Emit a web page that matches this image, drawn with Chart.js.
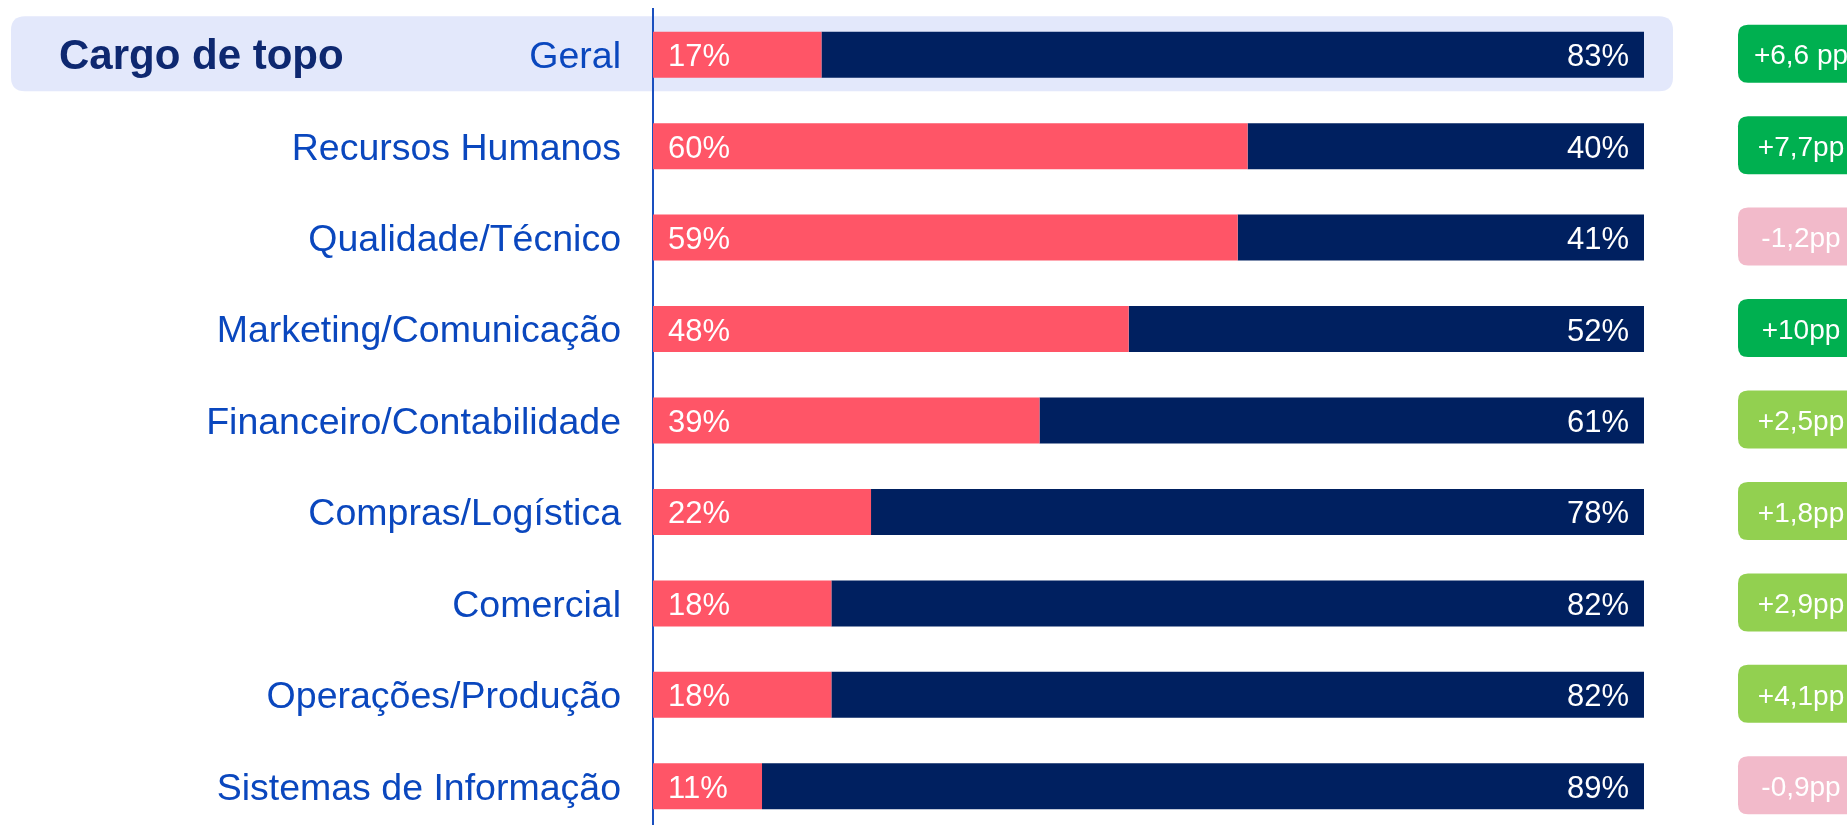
<!DOCTYPE html>
<html>
<head>
<meta charset="utf-8">
<script src="https://cdn.jsdelivr.net/npm/chart.js@4.4.1/dist/chart.umd.min.js"></script>
<style>
  html, body { margin: 0; padding: 0; background: #ffffff; overflow: hidden; }
  canvas { display: block; }
</style>
</head>
<body>
<canvas id="c" width="1847" height="842"></canvas>
<script>
// ---- Data ----
const categories = [
  'Geral',
  'Recursos Humanos',
  'Qualidade/Técnico',
  'Marketing/Comunicação',
  'Financeiro/Contabilidade',
  'Compras/Logística',
  'Comercial',
  'Operações/Produção',
  'Sistemas de Informação'
];
const womenShare = [17, 60, 59, 48, 39, 22, 18, 18, 11];
const menShare   = [83, 40, 41, 52, 61, 78, 82, 82, 89];
const changeValues = [6.6, 7.7, -1.2, 10, 2.5, 1.8, 2.9, 4.1, -0.9];
const changeLabels = ['+6,6 pp', '+7,7pp', '-1,2pp', '+10pp', '+2,5pp', '+1,8pp', '+2,9pp', '+4,1pp', '-0,9pp'];
const titleText = 'Cargo de topo';

// ---- Styles ----
const FONT = "'Liberation Sans', Arial, Helvetica, sans-serif";
const RED = '#FF5567';
const NAVY = '#002060';
const LABEL_BLUE = '#0A47BE';
const TITLE_NAVY = '#0E2870';
const BOX_COLOR = '#E3E8FB';

function badgeColor(v) {
  if (v >= 5) return '#00B050';
  if (v > 0) return '#92D050';
  return '#F2BACA';
}

function roundRect(ctx, x, y, w, h, r) {
  ctx.beginPath();
  ctx.moveTo(x + r, y);
  ctx.lineTo(x + w - r, y);
  ctx.quadraticCurveTo(x + w, y, x + w, y + r);
  ctx.lineTo(x + w, y + h - r);
  ctx.quadraticCurveTo(x + w, y + h, x + w - r, y + h);
  ctx.lineTo(x + r, y + h);
  ctx.quadraticCurveTo(x, y + h, x, y + h - r);
  ctx.lineTo(x, y + r);
  ctx.quadraticCurveTo(x, y, x + r, y);
  ctx.closePath();
}

const decorPlugin = {
  id: 'decor',
  beforeDraw(chart) {
    const ctx = chart.ctx;
    const yScale = chart.scales.y;
    const cy = yScale.getPixelForValue(0);
    ctx.save();
    ctx.fillStyle = BOX_COLOR;
    roundRect(ctx, 11, cy - 38.5, 1662, 75, 14);
    ctx.fill();
    ctx.restore();
  },
  afterDatasetsDraw(chart) {
    const ctx = chart.ctx;
    const yScale = chart.scales.y;
    ctx.save();
    // value labels
    ctx.font = '31px ' + FONT;
    ctx.fillStyle = '#ffffff';
    ctx.textBaseline = 'middle';
    const m0 = chart.getDatasetMeta(0);
    const m1 = chart.getDatasetMeta(1);
    m0.data.forEach((bar, i) => {
      const left = Math.min(bar.base, bar.x);
      ctx.textAlign = 'left';
      ctx.fillText(womenShare[i] + '%', left + 15, bar.y + 3);
    });
    m1.data.forEach((bar, i) => {
      const right = Math.max(bar.base, bar.x);
      ctx.textAlign = 'right';
      ctx.fillText(menShare[i] + '%', right - 15, bar.y + 3);
    });
    // badges
    categories.forEach((c, i) => {
      const cy = yScale.getPixelForValue(i);
      ctx.fillStyle = badgeColor(changeValues[i]);
      roundRect(ctx, 1738, cy - 30, 126, 58, 10);
      ctx.fill();
      ctx.fillStyle = '#ffffff';
      ctx.font = '28px ' + FONT;
      ctx.textAlign = 'center';
      ctx.textBaseline = 'middle';
      ctx.fillText(changeLabels[i], 1801, cy + 2);
    });
    // title
    const cy0 = yScale.getPixelForValue(0);
    ctx.fillStyle = TITLE_NAVY;
    ctx.font = 'bold 42px ' + FONT;
    ctx.textAlign = 'left';
    ctx.textBaseline = 'alphabetic';
    ctx.fillText(titleText, 59, cy0 + 14);
    ctx.restore();
  }
};

new Chart(document.getElementById('c'), {
  type: 'bar',
  data: {
    labels: categories,
    datasets: [
      { label: 'Mulheres', data: womenShare, backgroundColor: RED, borderWidth: 0 },
      { label: 'Homens', data: menShare, backgroundColor: NAVY, borderWidth: 0 }
    ]
  },
  options: {
    indexAxis: 'y',
    responsive: false,
    animation: false,
    events: [],
    layout: { autoPadding: false, padding: { left: 0, right: 203, top: 9, bottom: 10 } },
    datasets: { bar: { categoryPercentage: 1.0, barPercentage: 0.503 } },
    plugins: { legend: { display: false }, tooltip: { enabled: false }, title: { display: false } },
    scales: {
      x: { stacked: true, min: 0, max: 100, display: false },
      y: {
        stacked: true,
        grid: { display: false, drawTicks: false },
        border: { display: true, color: '#1A4FBF', width: 2 },
        afterFit(scale) {
          scale.width = 653;
          scale.paddingTop = 0;
          scale.paddingBottom = 0;
        },
        ticks: {
          color: LABEL_BLUE,
          padding: 32,
          labelOffset: 3,
          font: { family: FONT, size: 37.5 },
          autoSkip: false
        }
      }
    }
  },
  plugins: [decorPlugin]
});
</script>
</body>
</html>
